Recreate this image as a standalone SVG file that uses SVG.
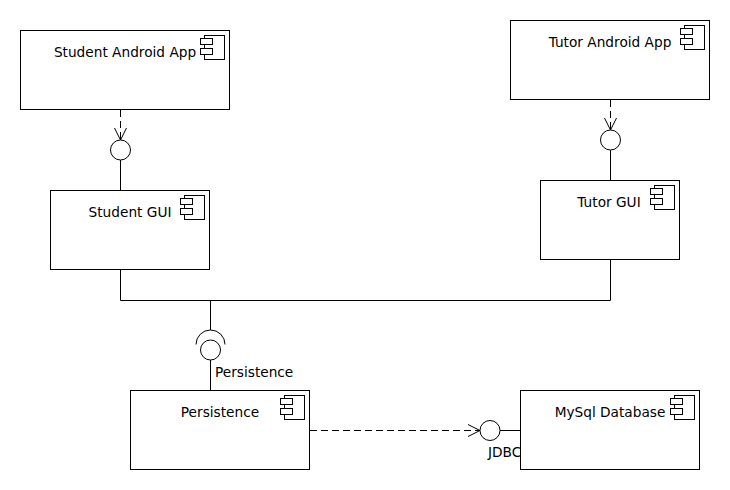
<svg xmlns="http://www.w3.org/2000/svg" width="730" height="490" viewBox="0 0 730 490">
<style>
.box{fill:#fff;stroke:#000;stroke-width:1}
.ico{fill:#fff;stroke:#000;stroke-width:1}
.lbl{font-family:"DejaVu Sans",sans-serif;font-size:13.7px;fill:#000}
.ln{fill:none;stroke:#000;stroke-width:1}
.dash{fill:none;stroke:#000;stroke-width:1;stroke-dasharray:7 4}
.ball{fill:#fff;stroke:#000;stroke-width:1}
</style>
<defs>
<g id="cico">
<rect class="ico" x="-25" y="5" width="20" height="24"/>
<rect class="ico" x="-29" y="8" width="12" height="6"/>
<rect class="ico" x="-29" y="18" width="12" height="6"/>
</g>
</defs>
<g id="connectors">
<line class="dash" x1="120.5" y1="110" x2="120.5" y2="140"/>
<path class="ln" d="M114.5,128 L120.5,140 L126.5,128"/>
<line class="ln" x1="120.5" y1="160" x2="120.5" y2="190"/>
<circle class="ball" cx="120.5" cy="150" r="10"/>
<line class="dash" x1="610.5" y1="100" x2="610.5" y2="130"/>
<path class="ln" d="M604.5,118 L610.5,130 L616.5,118"/>
<line class="ln" x1="610.5" y1="150" x2="610.5" y2="180"/>
<circle class="ball" cx="610.5" cy="140" r="10"/>
<path class="ln" d="M120.5,269 V300.5 H610.5 V259"/>
<line class="ln" x1="210.5" y1="300" x2="210.5" y2="330"/>
<path class="ln" d="M196,344.5 A14.5,14.5 0 0 1 225,344.5"/>
<circle class="ball" cx="210.5" cy="350" r="10"/>
<line class="ln" x1="210.5" y1="360" x2="210.5" y2="390"/>
<text class="lbl" x="215" y="377">Persistence</text>
<line class="dash" x1="310" y1="430.5" x2="480" y2="430.5"/>
<path class="ln" d="M468,424.5 L480,430.5 L468,436.5"/>
<circle class="ball" cx="490" cy="430.5" r="10"/>
<line class="ln" x1="500" y1="430.5" x2="520" y2="430.5"/>
<text class="lbl" x="488" y="457">JDBC</text>
</g>
<g id="student-android-app">
<rect class="box" x="20.5" y="30.5" width="209" height="79"/>
<use href="#cico" x="229.5" y="30.5"/>
<text class="lbl" x="125" y="57" text-anchor="middle">Student Android App</text>
</g>
<g id="tutor-android-app">
<rect class="box" x="510.5" y="20.5" width="199" height="79"/>
<use href="#cico" x="709.5" y="20.5"/>
<text class="lbl" x="610" y="47" text-anchor="middle">Tutor Android App</text>
</g>
<g id="student-gui">
<rect class="box" x="50.5" y="190.5" width="159" height="79"/>
<use href="#cico" x="209.5" y="190.5"/>
<text class="lbl" x="130" y="217" text-anchor="middle">Student GUI</text>
</g>
<g id="tutor-gui">
<rect class="box" x="540.5" y="180.5" width="139" height="79"/>
<use href="#cico" x="679.5" y="180.5"/>
<text class="lbl" x="609" y="207" text-anchor="middle">Tutor GUI</text>
</g>
<g id="persistence">
<rect class="box" x="130.5" y="390.5" width="179" height="79"/>
<use href="#cico" x="309.5" y="390.5"/>
<text class="lbl" x="220" y="417" text-anchor="middle">Persistence</text>
</g>
<g id="mysql-database">
<rect class="box" x="520.5" y="390.5" width="179" height="79"/>
<use href="#cico" x="699.5" y="390.5"/>
<text class="lbl" x="610" y="417" text-anchor="middle">MySql Database</text>
</g>
</svg>
